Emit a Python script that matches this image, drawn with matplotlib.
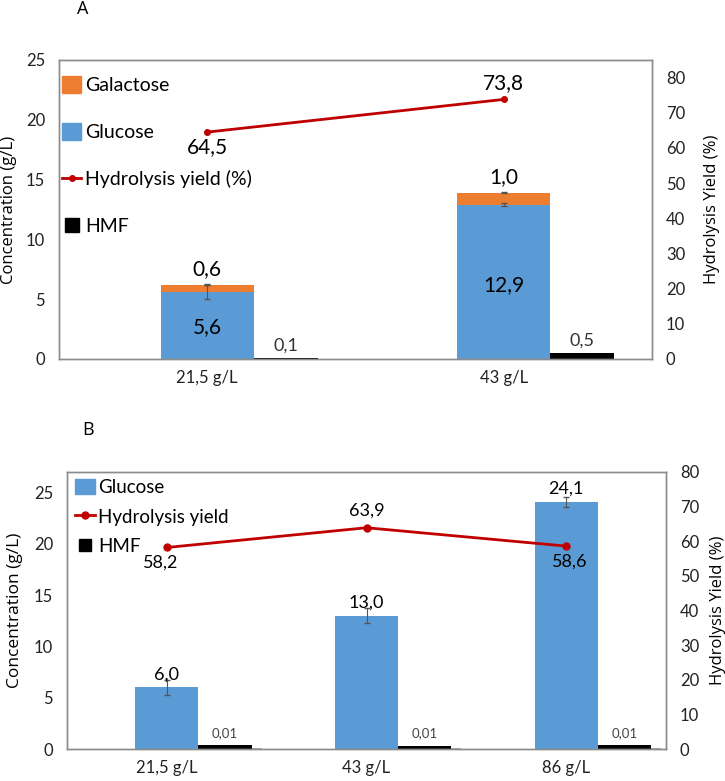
import numpy as np
from matplotlib import pyplot as plt
from matplotlib.patches import Patch
from matplotlib.lines import Line2D

plt.rcParams['font.family'] = ['Lato', 'DejaVu Sans']

# Panel A data
cats_a = ['21,5 g/L', '43 g/L']
glucose_a = [5.6, 12.9]
galactose_a = [0.6, 1.0]
hmf_a = [0.1, 0.5]
glucose_a_err = [0.55, 0.12]
galactose_a_err = [0.05, 0.05]
yield_a = [64.5, 73.8]

# Panel B data
cats_b = ['21,5 g/L', '43 g/L', '86 g/L']
glucose_b = [6.0, 13.0, 24.1]
glucose_b_err = [0.75, 0.7, 0.5]
hmf_b = [0.35, 0.28, 0.38]          # bar heights as drawn
hmf_b_text = ['0,01', '0,01', '0,01']
yield_b = [58.2, 63.9, 58.6]

blue = '#5B9BD5'
orange = '#ED7D31'
red = '#C00000'
spine_col = '#8c8c8c'
lab_font = ['Open Sans', 'DejaVu Sans']

fig = plt.figure(figsize=(7.25, 7.81), dpi=100)


def style(ax, ax2):
    for a in (ax, ax2):
        for s in a.spines.values():
            s.set_color(spine_col)
            s.set_linewidth(1.0)
        a.tick_params(length=0, labelsize=12, colors='#222222')
    ax.tick_params(axis='y', pad=10)
    ax2.tick_params(axis='y', pad=10)
    ax.tick_params(axis='x', pad=8)


def fmt(v, nd=1):
    return f'{v:.{nd}f}'.replace('.', ',')


# ---------------- Panel A ----------------
axA = fig.add_axes([59/725, 1-359/781, 593/725, 299/781])
xa = np.arange(len(cats_a))
wg = 0.314
wh = 0.215
axA.bar(xa, glucose_a, wg, color=blue, zorder=2)
axA.errorbar(xa, glucose_a, yerr=glucose_a_err, fmt='none', ecolor='#555555',
             elinewidth=0.8, capsize=2, zorder=3)
axA.bar(xa, galactose_a, wg, bottom=glucose_a, color=orange, zorder=2)
tops_a = np.array(glucose_a) + np.array(galactose_a)
axA.errorbar(xa, tops_a, yerr=galactose_a_err, fmt='none', ecolor='#555555',
             elinewidth=0.8, capsize=2, zorder=3)
axA.bar(xa + wg/2 + wh/2, hmf_a, wh, color='black', zorder=2)
axA.set_xlim(-0.5, 1.5)
axA.set_ylim(0, 25)
axA.set_yticks([0, 5, 10, 15, 20, 25])
axA.set_xticks(xa)
axA.set_xticklabels(cats_a)
axA.set_ylabel('Concentration (g/L)', fontsize=12, family=lab_font)
axA.yaxis.set_label_coords(-0.07, 0.5)

for i in range(len(xa)):
    axA.text(xa[i], glucose_a[i]*0.48, fmt(glucose_a[i]), ha='center', va='center', fontsize=15)
    axA.text(xa[i], tops_a[i] + 1.3, fmt(galactose_a[i]), ha='center', va='center', fontsize=15)
    axA.text(xa[i] + wg/2 + wh/2, hmf_a[i] + 1.0, fmt(hmf_a[i]), ha='center', va='center',
             fontsize=13, color='#333333')

axA2 = axA.twinx()
axA2.plot(xa, yield_a, '-o', color=red, lw=2, ms=4, zorder=4)
axA2.set_ylim(0, 85)
axA2.set_yticks(np.arange(0, 81, 10))
axA2.set_ylabel('Hydrolysis Yield (%)', fontsize=12, family=lab_font)
axA2.yaxis.set_label_coords(1.088, 0.5)
axA2.text(xa[0], yield_a[0] - 4.3, fmt(yield_a[0]), ha='center', va='center', fontsize=15)
axA2.text(xa[1], yield_a[1] + 4.6, fmt(yield_a[1]), ha='center', va='center', fontsize=15)
style(axA, axA2)

handles_a = [Patch(color=orange), Patch(color=blue),
             Line2D([], [], color=red, marker='o', ms=4, lw=2),
             Line2D([], [], color='black', marker='s', ms=10, lw=0)]
axA.legend(handles_a, ['Galactose', 'Glucose', 'Hydrolysis yield (%)', 'HMF'],
           loc='upper left', bbox_to_anchor=(0.005, 0.945), frameon=False, fontsize=14,
           handlelength=1.0, handleheight=0.9, handletextpad=0.2, labelspacing=1.5,
           borderaxespad=0, borderpad=0)
fig.text(83/725, 1-9/781, 'A', fontsize=13, family=lab_font, ha='center', va='center')

# ---------------- Panel B ----------------
axB = fig.add_axes([67/725, 1-749/781, 599/725, 277/781])
xb = np.arange(len(cats_b))
wg = 0.317
wh = 0.267
axB.bar(xb, glucose_b, wg, color=blue, zorder=2)
axB.errorbar(xb, glucose_b, yerr=glucose_b_err, fmt='none', ecolor='#555555',
             elinewidth=0.8, capsize=2, zorder=3)
axB.bar(xb + wg/2 + wh/2, hmf_b, wh, color='black', zorder=2)
axB.bar(xb + wg/2 + wh + 0.025, [0.08]*3, 0.05, color='#aaaaaa', zorder=2)
axB.set_xlim(-0.5, 2.5)
axB.set_ylim(0, 27)
axB.set_yticks([0, 5, 10, 15, 20, 25])
axB.set_xticks(xb)
axB.set_xticklabels(cats_b)
axB.set_ylabel('Concentration (g/L)', fontsize=12.5, family=lab_font)
axB.yaxis.set_label_coords(-0.073, 0.5)
for i in range(len(xb)):
    axB.text(xb[i], glucose_b[i] + 1.25, fmt(glucose_b[i]), ha='center', va='center', fontsize=13)
    axB.text(xb[i] + wg/2 + wh/2, 1.55, hmf_b_text[i], ha='center', va='center',
             fontsize=9.5, color='#444444')

axB2 = axB.twinx()
axB2.plot(xb, yield_b, '-o', color=red, lw=2, ms=5, zorder=4)
axB2.set_ylim(0, 80)
axB2.set_yticks(np.arange(0, 81, 10))
axB2.set_ylabel('Hydrolysis Yield (%)', fontsize=12, family=lab_font)
axB2.yaxis.set_label_coords(1.074, 0.5)
axB2.text(xb[0] - 0.03, yield_b[0] - 4.4, fmt(yield_b[0]), ha='center', va='center', fontsize=13)
axB2.text(xb[1], yield_b[1] + 4.9, fmt(yield_b[1]), ha='center', va='center', fontsize=13)
axB2.text(xb[2] + 0.02, yield_b[2] - 4.4, fmt(yield_b[2]), ha='center', va='center', fontsize=13)
style(axB, axB2)

handles_b = [Patch(color=blue), Line2D([], [], color=red, marker='o', ms=5, lw=2),
             Line2D([], [], color='black', marker='s', ms=9, lw=0)]
axB.legend(handles_b, ['Glucose', 'Hydrolysis yield', 'HMF'],
           loc='upper left', bbox_to_anchor=(0.013, 0.975), frameon=False, fontsize=13.5,
           handlelength=1.1, handleheight=0.9, handletextpad=0.15, labelspacing=0.65,
           borderaxespad=0, borderpad=0)
fig.text(88/725, 1-430/781, 'B', fontsize=13, family=lab_font, ha='center', va='center')

fig.savefig('out.png', dpi=100)
